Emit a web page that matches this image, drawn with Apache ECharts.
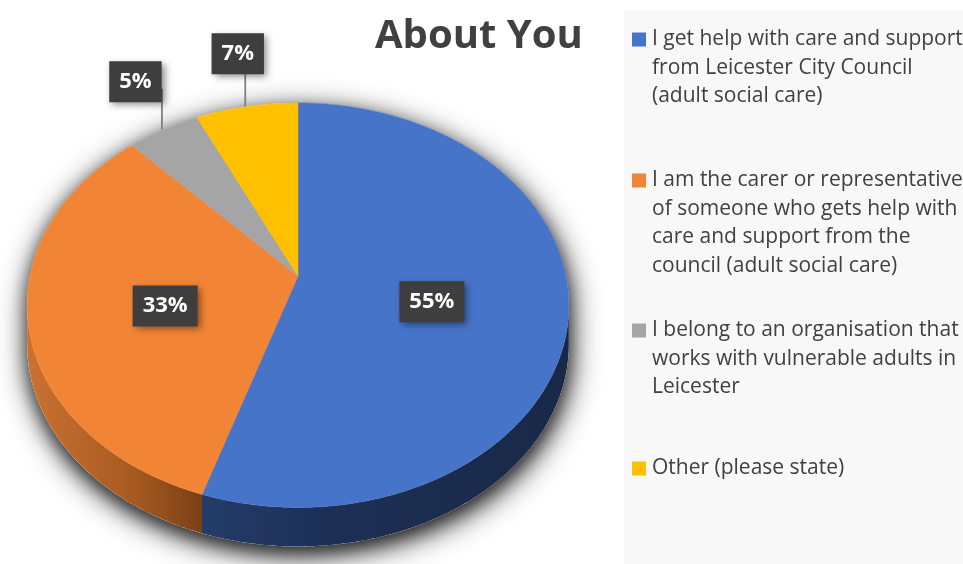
<!DOCTYPE html>
<html><head><meta charset="utf-8">
<script src="https://cdn.jsdelivr.net/npm/echarts@6/dist/echarts.min.js"></script>
<style>html,body{margin:0;padding:0;background:#fff}#c{width:963px;height:564px}</style>
</head><body><div id="c"></div>
<script>
// ---- data ----
const chartTitle = 'About You';
const categories = [
  'I get help with care and support\nfrom Leicester City Council\n(adult social care)',
  'I am the carer or representative\nof someone who gets help with\ncare and support from the\ncouncil (adult social care)',
  'I belong to an organisation that\nworks with vulnerable adults in\nLeicester',
  'Other (please state)'
];
const values = [55, 33, 5, 7];
const colors = ['#4574C8', '#F28435', '#A5A5A5', '#FFC000'];

// ---- layout / style ----
const total = values.reduce((a, b) => a + b, 0);
const CX = 298, CY = 276, RX = 268, RY = 198, K = 0.1445, DEPTH = 39;
function proj(deg, f) {
  const t = deg * Math.PI / 180;
  const u = f * Math.sin(t), v = -f * Math.cos(t);
  const w = 1 - K * v;
  return [CX + RX * u / w, CY + RY * v / w];
}
function arc(a, b, f, dy) {
  const n = Math.max(2, Math.ceil(Math.abs(b - a) / 0.5));
  const pts = [];
  for (let i = 0; i <= n; i++) {
    const p = proj(a + (b - a) * i / n, f);
    pts.push([p[0], p[1] + dy]);
  }
  return pts;
}
const SIL = Math.acos(-K) * 180 / Math.PI;
const SIL2 = 360 - SIL;
const starts = []; let acc = 0;
values.forEach(v => { starts.push(acc / total * 360); acc += v; });

function grad(stops) {
  return { type: 'linear', x: CX - RX, y: 0, x2: CX + RX, y2: 0, global: true,
    colorStops: stops.map(s => ({ offset: s[0], color: s[1] })) };
}
const sideFill = [
  grad([[0, '#2a4474'], [0.3, '#253d6b'], [0.55, '#1d2f55'], [1, '#192847']]),
  grad([[0, '#c97131'], [0.2, '#a5591f'], [0.32, '#7a4016'], [1, '#6a3812']]),
  grad([[0, '#8a8a8a'], [1, '#555555']]),
  grad([[0, '#c79500'], [1, '#8a6700']])
];
const labelLayout = [
  { mode: 'inside', f: 0.5, dy: 10 },
  { mode: 'inside', f: 0.5, dy: 8 },
  { mode: 'outside', len: 41, dx: -28, dy: -48 },
  { mode: 'outside', len: 33, dx: -9, dy: -53 }
];
const legendTops = [29, 170, 320, 458];

function renderSlice(i) {
  return function () {
    const a = starts[i], b = a + values[i] / total * 360, mid = (a + b) / 2;
    const children = [];
    const s = Math.max(a, SIL), e = Math.min(b, SIL2);
    if (s < e) {
      children.push({ type: 'polygon', shape: { points: arc(s, e, 1, 0).concat(arc(e, s, 1, DEPTH)) },
        style: { fill: sideFill[i] } });
    }
    children.push({ type: 'polygon', shape: { points: [[CX, CY]].concat(arc(a, b, 1, 0)) },
      style: { fill: colors[i], stroke: colors[i], lineWidth: 0.6 } });
    const L = labelLayout[i];
    let lx, ly;
    if (L.mode === 'inside') {
      const p = proj(mid, L.f); lx = p[0]; ly = p[1] + L.dy;
    } else {
      const p = proj(mid, 1);
      children.push({ type: 'line', shape: { x1: p[0] - 1.5, y1: p[1], x2: p[0] - 1.5, y2: p[1] - L.len },
        style: { stroke: '#7f7f7f', lineWidth: 1.75 } });
      lx = p[0] + L.dx; ly = p[1] + L.dy;
    }
    children.push({ type: 'text', x: lx, y: ly, z2: 10, style: {
      text: Math.round(values[i] / total * 100) + '%', fill: '#ffffff', fontSize: 22, fontWeight: 'bold',
      fontFamily: 'Open Sans', align: 'center', verticalAlign: 'middle', backgroundColor: '#3e3e3e',
      padding: [7, 10, 7, 10], lineHeight: 27, shadowBlur: 7, shadowColor: 'rgba(0,0,0,0.45)',
      shadowOffsetX: 3, shadowOffsetY: 3 } });
    return { type: 'group', children };
  };
}

const rich = { s: { width: 14, height: 14 },
  t: { fontSize: 21, fontFamily: 'Open Sans', color: '#404040', lineHeight: 28.5, padding: [0, 0, 0, 6] } };
colors.forEach((c, i) => { rich['m' + i] = { width: 14, height: 14, backgroundColor: c }; });

const shadowPts = arc(SIL2, 360 + SIL, 1, 0).concat(arc(SIL, SIL2, 1, DEPTH));
const series = [{
  type: 'custom', name: '_shadow', silent: true, coordinateSystem: 'none', data: [0],
  renderItem: () => ({ type: 'group', children: [
    { type: 'polygon', shape: { points: shadowPts },
      style: { fill: '#ffffff', shadowBlur: 30, shadowColor: 'rgba(0,0,0,0.85)', shadowOffsetX: 2, shadowOffsetY: 8 } },
    { type: 'polygon', shape: { points: shadowPts },
      style: { fill: '#ffffff', shadowBlur: 16, shadowColor: 'rgba(0,0,0,0.45)', shadowOffsetX: 0, shadowOffsetY: 6 } }
  ] })
}];
categories.forEach((name, i) => {
  series.push({ type: 'custom', name, coordinateSystem: 'none', data: [values[i]],
    itemStyle: { color: colors[i] }, renderItem: renderSlice(i) });
});

const chart = echarts.init(document.getElementById('c'));
chart.setOption({
  animation: false,
  backgroundColor: '#ffffff',
  title: { text: chartTitle, left: 375, top: 17, padding: 0,
    textStyle: { fontFamily: 'Open Sans', fontWeight: 'bold', fontSize: 40, color: '#404040' } },
  graphic: [{ type: 'rect', left: 624, top: 10, z: -1, shape: { width: 339, height: 554 }, style: { fill: '#f8f8f8' } }],
  legend: categories.map((name, i) => ({
    data: [name], left: 627, top: legendTops[i], orient: 'vertical', icon: 'rect', itemWidth: 0, itemHeight: 14,
    selectedMode: false, padding: 0,
    formatter: n => n.split('\n').map((l, j) => (j === 0 ? '{m' + i + '|}' : '{s|}') + '{t|' + l + '}').join('\n'),
    textStyle: { rich }
  })),
  series
});
</script></body></html>
